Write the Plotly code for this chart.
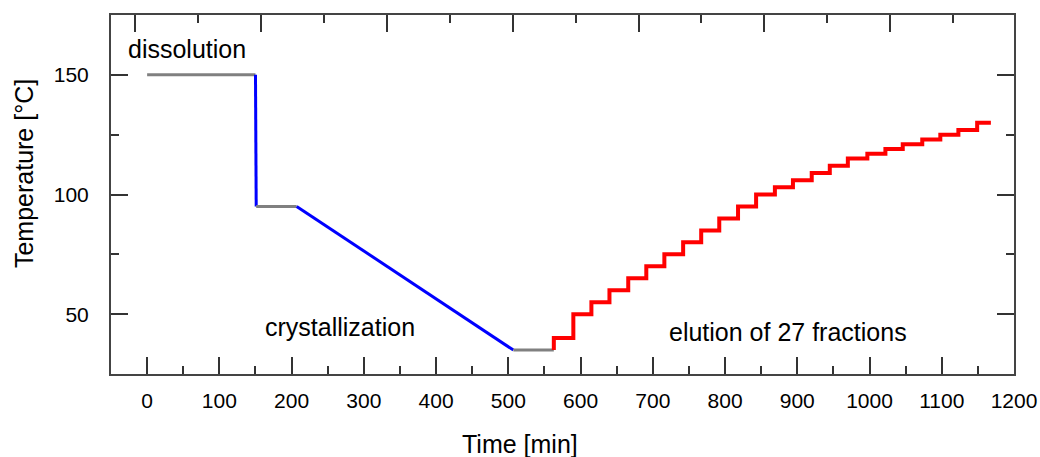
import plotly.graph_objects as go

# ---- data ----
dissolution_t = [0, 150]
dissolution_T = [150, 150]
quench_t = [150, 151]
quench_T = [150, 95]
hold1_t = [151, 207]
hold1_T = [95, 95]
cryst_t = [207, 507]
cryst_T = [95, 35]
hold2_t = [507, 563]
hold2_T = [35, 35]
elution_start_t = 563
elution_start_T = 35
step_times = [563, 590, 615, 640, 666, 691, 716, 742, 767, 792, 818, 843,
              869, 894, 920, 945, 970, 997, 1022, 1046, 1073, 1098, 1123, 1149]
step_levels = [40, 50, 55, 60, 65, 70, 75, 80, 85, 90, 95, 100,
               103, 106, 109, 112, 115, 117, 119, 121, 123, 125, 127, 130]
elution_end_t = 1168

x_range = [-50, 1200]
y_range = [25, 175]

GRAY = "#808080"
BLUE = "#0000ff"
RED = "#ff0000"
FONT = "Liberation Sans, Arial, sans-serif"

fig = go.Figure()
fig.add_trace(go.Scatter(x=dissolution_t, y=dissolution_T, mode="lines",
                         line=dict(color=GRAY, width=3)))
fig.add_trace(go.Scatter(x=quench_t, y=quench_T, mode="lines",
                         line=dict(color=BLUE, width=3)))
fig.add_trace(go.Scatter(x=hold1_t, y=hold1_T, mode="lines",
                         line=dict(color=GRAY, width=3)))
fig.add_trace(go.Scatter(x=cryst_t, y=cryst_T, mode="lines",
                         line=dict(color=BLUE, width=3)))
fig.add_trace(go.Scatter(x=hold2_t, y=hold2_T, mode="lines",
                         line=dict(color=GRAY, width=3)))
ex = [elution_start_t] + step_times + [elution_end_t]
ey = [elution_start_T] + step_levels + [step_levels[-1]]
fig.add_trace(go.Scatter(x=ex, y=ey, mode="lines", line_shape="hv",
                         line=dict(color=RED, width=4)))
# invisible trace to activate top axis
fig.add_trace(go.Scatter(x=x_range, y=y_range, mode="lines", xaxis="x2",
                         line=dict(width=0), hoverinfo="skip", opacity=0))

fig.update_layout(
    width=1040, height=457,
    margin=dict(l=111, r=26, t=15, b=83),
    paper_bgcolor="white", plot_bgcolor="white",
    showlegend=False,
    font=dict(family=FONT, size=21, color="black"),
    xaxis=dict(range=x_range, showgrid=False, zeroline=False, automargin=False,
               showline=True, linecolor="#444", linewidth=2, mirror=True,
               ticks="inside", ticklen=17, tickwidth=1.5, tickcolor="#333",
               tick0=0, dtick=100,
               minor=dict(ticks="inside", ticklen=8, dtick=50, tick0=0,
                          tickwidth=1.5, tickcolor="#333"),
               tickfont=dict(size=21), ticklabelstandoff=7),
    xaxis2=dict(range=x_range, overlaying="x", side="top", showgrid=False,
                zeroline=False, showline=False, showticklabels=False,
                automargin=False,
                ticks="inside", ticklen=17, tickwidth=1.5, tickcolor="#333",
                tick0=-16.6, dtick=174.2,
                minor=dict(ticks="inside", ticklen=8, dtick=87.1, tick0=-16.6,
                           tickwidth=1.5, tickcolor="#333")),
    yaxis=dict(range=y_range, showgrid=False, zeroline=False, automargin=False,
               showline=True, linecolor="#444", linewidth=2, mirror="ticks",
               ticks="inside", ticklen=17, tickwidth=1.5, tickcolor="#333",
               tick0=0, dtick=50,
               minor=dict(ticks="inside", ticklen=8, dtick=25, tick0=0,
                          tickwidth=1.5, tickcolor="#333"),
               tickfont=dict(size=21), ticklabelstandoff=16),
    annotations=[
        dict(x=0.4529, y=-0.195, xref="paper", yref="paper", text="Time [min]",
             showarrow=False, xanchor="center", yanchor="middle",
             font=dict(size=25)),
        dict(x=-0.0963, y=0.557, xref="paper", yref="paper",
             text="Temperature [°C]", textangle=-90,
             showarrow=False, xanchor="center", yanchor="middle",
             font=dict(size=25)),
        dict(x=-29, y=161, text="dissolution", showarrow=False,
             xanchor="left", yanchor="middle", font=dict(size=25)),
        dict(x=160, y=44.7, text="crystallization", showarrow=False,
             xanchor="left", yanchor="middle", font=dict(size=25)),
        dict(x=720, y=42.6, text="elution of 27 fractions", showarrow=False,
             xanchor="left", yanchor="middle", font=dict(size=25)),
    ],
)

fig.write_html("out.html", config={"displayModeBar": False},
               post_script="document.body.style.margin='0px';"
                           "document.body.style.overflow='hidden';")
